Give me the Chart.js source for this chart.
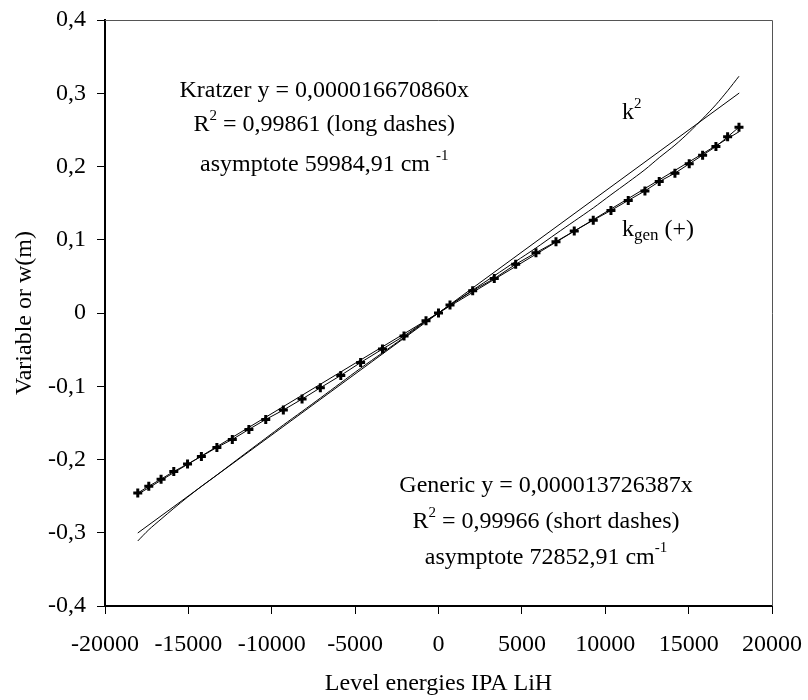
<!DOCTYPE html>
<html>
<head>
<title>Kratzer and generic fits, LiH</title>
<script src="https://cdn.jsdelivr.net/npm/chart.js"></script>
<style>
  body { margin: 0; background: #fff; }
  #wrap { width: 808px; height: 700px; }
</style>
</head>
<body>
<div id="wrap"><canvas id="chart" width="808" height="700"></canvas></div>
<script>
// level energies (IPA LiH)
const levels = [-18035, -17374, -16637, -15875, -15050, -14220, -13290, -12365, -11370, -10360,
  -9305, -8183, -7086, -5860, -4670, -3360, -2068, -749, 0, 690,
  2050, 3345, 4628, 5845, 7046, 8141, 9281, 10342, 11379, 12380,
  13237, 14179, 15036, 15839, 16637, 17338, 18020];

// k_gen points (+)
const kGen = [-0.2458, -0.2364, -0.2268, -0.2163, -0.2063, -0.1958, -0.1835, -0.1726, -0.1589, -0.1453,
  -0.1325, -0.1175, -0.1021, -0.0852, -0.0676, -0.0492, -0.0314, -0.0105, 0, 0.0110,
  0.0305, 0.0470, 0.0665, 0.0824, 0.0974, 0.1120, 0.1267, 0.1400, 0.1537, 0.1667,
  0.1794, 0.1909, 0.2036, 0.2155, 0.2272, 0.2405, 0.2537];

// k^2 curve
const kSquared = [-0.3112, -0.2959, -0.2814, -0.2667, -0.2514, -0.2367, -0.2211, -0.2052, -0.1881, -0.1709,
  -0.1529, -0.1344, -0.1161, -0.0954, -0.0754, -0.0543, -0.0333, -0.0112, 0, 0.0107,
  0.0313, 0.0508, 0.0704, 0.0888, 0.1081, 0.1254, 0.1434, 0.1614, 0.1786, 0.1957,
  0.2121, 0.2292, 0.2469, 0.2652, 0.2844, 0.3034, 0.3232];

// trend lines (end points)
const fitX = [-18035, 18035];
const kratzerFit = [-0.3003, 0.3003];
const genericFit = [-0.2476, 0.2476];

const xTicks = [-20000, -15000, -10000, -5000, 0, 5000, 10000, 15000, 20000];
const yTicks = [-0.4, -0.3, -0.2, -0.1, 0, 0.1, 0.2, 0.3, 0.4];

const FONT = 'Liberation Serif';
const SIZE = 24;

function pts(xs, ys) {
  return xs.map((x, i) => ({ x: x, y: ys[i] }));
}

// texts on the plot, anchored in data units
const notes = [
  { x: -6850, y: 0.304, align: 'center', parts: [['Kratzer y = 0,000016670860x', '']] },
  { x: -6850, y: 0.2565, align: 'center', parts: [['R', ''], ['2', 'sup'], [' = 0,99861 (long dashes)', '']] },
  { x: -6850, y: 0.2025, align: 'center', parts: [['asymptote 59984,91 cm ', ''], ['-1', 'sup']] },
  { x: 11000, y: 0.2733, align: 'left', parts: [['k', ''], ['2', 'sup']] },
  { x: 11000, y: 0.1134, align: 'left', parts: [['k', ''], ['gen', 'sub'], [' (+)', '']] },
  { x: 6450, y: -0.2357, align: 'center', parts: [['Generic y = 0,000013726387x', '']] },
  { x: 6450, y: -0.2856, align: 'center', parts: [['R', ''], ['2', 'sup'], [' = 0,99966 (short dashes)', '']] },
  { x: 6450, y: -0.3334, align: 'center', parts: [['asymptote 72852,91 cm', ''], ['-1', 'sup']] }
];

function partFont(mode) {
  if (mode === 'sup') return '15px "' + FONT + '"';
  if (mode === 'sub') return '17px "' + FONT + '"';
  return SIZE + 'px "' + FONT + '"';
}

const notesPlugin = {
  id: 'notes',
  afterDraw(chart) {
    const ctx = chart.ctx;
    const xs = chart.scales.x, ys = chart.scales.y;
    const area = chart.chartArea;
    ctx.save();
    // thin frame on top and right
    ctx.strokeStyle = '#555';
    ctx.lineWidth = 1;
    ctx.beginPath();
    ctx.moveTo(area.left, area.top + 0.5);
    ctx.lineTo(area.right + 0.5, area.top + 0.5);
    ctx.lineTo(area.right + 0.5, area.bottom);
    ctx.stroke();

    ctx.fillStyle = '#000';
    ctx.textBaseline = 'middle';
    ctx.textAlign = 'left';
    notes.forEach(n => {
      let w = 0;
      n.parts.forEach(p => { ctx.font = partFont(p[1]); w += ctx.measureText(p[0]).width; });
      let px = xs.getPixelForValue(n.x);
      const py = ys.getPixelForValue(n.y);
      if (n.align === 'center') px -= w / 2;
      n.parts.forEach(p => {
        ctx.font = partFont(p[1]);
        let dy = 0;
        if (p[1] === 'sup') dy = -9;
        if (p[1] === 'sub') dy = 6;
        ctx.fillText(p[0], px, py + dy);
        px += ctx.measureText(p[0]).width;
      });
    });
    ctx.restore();
  }
};

const ctx = document.getElementById('chart').getContext('2d');
new Chart(ctx, {
  type: 'scatter',
  data: {
    datasets: [
      {
        label: 'Kratzer fit',
        data: pts(fitX, kratzerFit),
        showLine: true,
        borderColor: '#000',
        borderWidth: 1,
        pointRadius: 0
      },
      {
        label: 'Generic fit',
        data: pts(fitX, genericFit),
        showLine: true,
        borderColor: '#000',
        borderWidth: 1,
        pointRadius: 0
      },
      {
        label: 'k2',
        data: pts(levels, kSquared),
        showLine: true,
        borderColor: '#000',
        borderWidth: 1,
        tension: 0.3,
        pointRadius: 0
      },
      {
        label: 'kgen',
        data: pts(levels, kGen),
        showLine: true,
        borderColor: '#000',
        borderWidth: 1,
        pointStyle: 'cross',
        pointRadius: 4.5,
        pointBorderWidth: 3,
        pointBorderColor: '#000',
        pointBackgroundColor: '#000'
      }
    ]
  },
  options: {
    responsive: false,
    animation: false,
    devicePixelRatio: 1,
    layout: { padding: { left: 0, right: 36, top: 20, bottom: 0 } },
    plugins: {
      legend: { display: false },
      tooltip: { enabled: false }
    },
    scales: {
      x: {
        type: 'linear',
        min: -20000,
        max: 20000,
        afterFit: s => {
          s.height = 94;
          s.paddingLeft = 0;
          s.paddingRight = 0;
        },
        afterBuildTicks: s => { s.ticks = xTicks.map(v => ({ value: v })); },
        ticks: {
          color: '#000',
          padding: 16,
          maxRotation: 0,
          font: { family: FONT, size: SIZE },
          callback: v => String(v)
        },
        grid: { drawOnChartArea: false, drawTicks: true, tickLength: 8, color: '#000', lineWidth: 1 },
        border: { display: true, color: '#000', width: 2 },
        title: {
          display: true,
          text: 'Level energies IPA LiH',
          color: '#000',
          font: { family: FONT, size: SIZE },
          padding: { top: 0, bottom: 2 }
        }
      },
      y: {
        type: 'linear',
        min: -0.4,
        max: 0.4,
        afterFit: s => {
          s.width = 105;
          s.paddingTop = 0;
          s.paddingBottom = 0;
        },
        afterBuildTicks: s => { s.ticks = yTicks.map(v => ({ value: v })); },
        ticks: {
          color: '#000',
          padding: 11,
          font: { family: FONT, size: SIZE },
          callback: v => Math.abs(v) < 1e-9 ? '0' : v.toFixed(1).replace('.', ',')
        },
        grid: { drawOnChartArea: false, drawTicks: true, tickLength: 8, color: '#000', lineWidth: 1 },
        border: { display: true, color: '#000', width: 2 },
        title: {
          display: true,
          text: 'Variable or w(m)',
          color: '#000',
          font: { family: FONT, size: SIZE },
          padding: { top: 10, bottom: 0 }
        }
      }
    }
  },
  plugins: [notesPlugin]
});
</script>
</body>
</html>
